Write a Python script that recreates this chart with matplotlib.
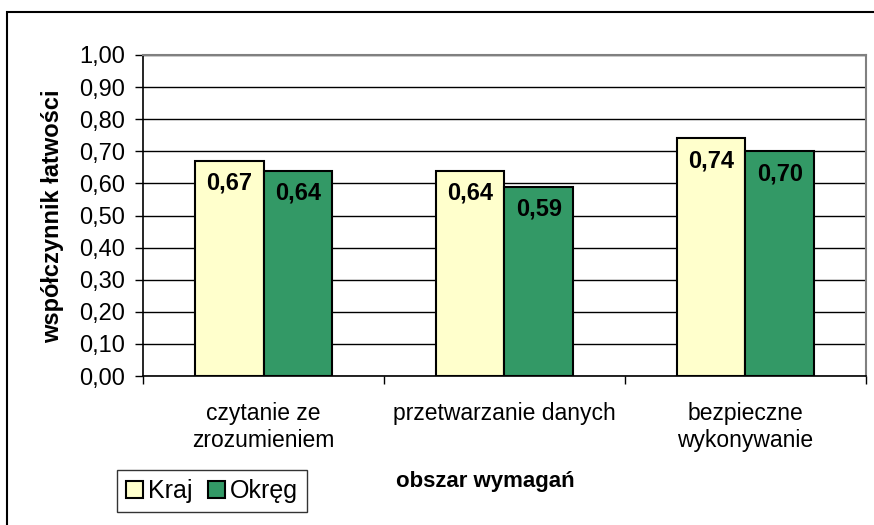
import matplotlib
matplotlib.use("Agg")
import matplotlib.pyplot as plt
from matplotlib.patches import Rectangle
import numpy as np

plt.rcParams['font.family'] = ['Liberation Sans', 'DejaVu Sans']

categories = ["czytanie ze\nzrozumieniem", "przetwarzanie danych", "bezpieczne\nwykonywanie"]
kraj = [0.67, 0.64, 0.74]
okreg = [0.64, 0.59, 0.70]
yticks = [0.0, 0.1, 0.2, 0.3, 0.4, 0.5, 0.6, 0.7, 0.8, 0.9, 1.0]

W, H = 874, 525
fig = plt.figure(figsize=(W / 100, H / 100), dpi=100)
ax = fig.add_axes([143 / W, 1 - 376 / H, (866 - 143) / W, (376 - 55) / H])

x = np.arange(len(categories))
bw = 0.286
b1 = ax.bar(x - bw / 2, kraj, bw, color="#FFFFCC", edgecolor="black", linewidth=1.5, label="Kraj", zorder=3)
b2 = ax.bar(x + bw / 2, okreg, bw, color="#339966", edgecolor="black", linewidth=1.5, label="Okręg", zorder=3)

for bars, vals in ((b1, kraj), (b2, okreg)):
    for rect, v in zip(bars, vals):
        ax.annotate(f"{v:.2f}".replace(".", ","), (rect.get_x() + rect.get_width() / 2, v),
                    xytext=(0, -16), textcoords="offset points", ha="center", va="center",
                    fontsize=17, fontweight="bold", zorder=4)

ax.set_xlim(-0.5, 2.5)
ax.set_ylim(0, 1.0)
ax.set_yticks(yticks)
ax.set_yticklabels([f"{t:.2f}".replace(".", ",") for t in yticks], fontsize=17)
ax.yaxis.grid(True, color="black", linewidth=1)
ax.set_axisbelow(True)

ax.set_xticks(x)
ax.set_xticklabels(categories, fontsize=16.5, linespacing=1.2)
ax.tick_params(axis="x", which="major", length=0, pad=19)
ax.set_xticks([-0.5, 0.5, 1.5, 2.5], minor=True)
ax.tick_params(axis="x", which="minor", length=6, width=1, direction="out")
ax.tick_params(axis="y", length=6, width=1, direction="out", pad=7)

for s in ("top", "right"):
    ax.spines[s].set_color("#808080")
    ax.spines[s].set_linewidth(1.5)
for s in ("left", "bottom"):
    ax.spines[s].set_color("black")
    ax.spines[s].set_linewidth(1.2)

fig.text(53 / W, 1 - 216 / H, "współczynnik łatwości", fontsize=17, fontweight="bold",
         rotation=90, ha="center", va="center")
fig.text(485 / W, 1 - 482 / H, "obszar wymagań", fontsize=16, fontweight="bold", ha="center", va="center")

leg = fig.legend(handles=[b1, b2], labels=["Kraj", "Okręg"], loc="center",
                 bbox_to_anchor=(212 / W, 1 - 491 / H), ncol=2, fontsize=18,
                 frameon=True, fancybox=False, edgecolor="black", handlelength=0.7,
                 handleheight=0.7, handletextpad=0.2, columnspacing=0.6, borderpad=0.35)
leg.get_frame().set_linewidth(1.0)

fig.patches.append(Rectangle((7 / W, -0.1), 2, 1 - 12 / H + 0.1, transform=fig.transFigure,
                             fill=False, edgecolor="black", linewidth=1.5))

fig.savefig("out.png", dpi=100)
